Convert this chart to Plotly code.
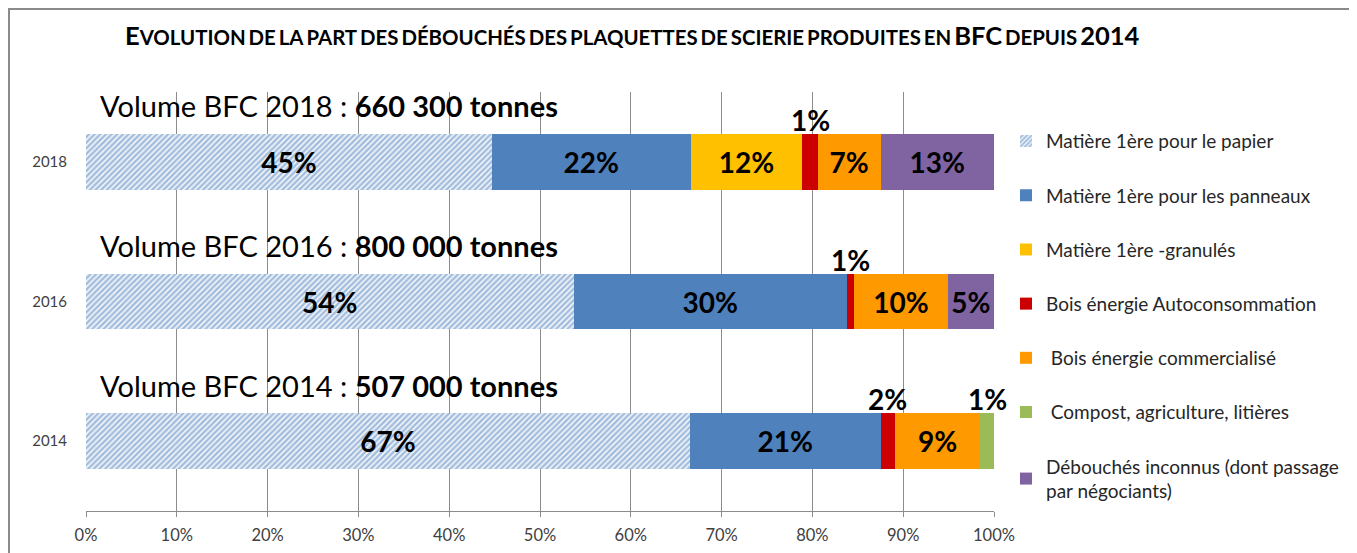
import plotly.graph_objects as go

# Data (shares in %)
years = ["2014", "2016", "2018"]
volumes = ["507 000 tonnes", "800 000 tonnes", "660 300 tonnes"]

papier = [66.5, 53.7, 44.7]
panneaux = [21.0, 30.1, 21.9]
granules = [0.0, 0.0, 12.3]
autoconso = [1.6, 0.8, 1.7]
commercialise = [9.4, 10.3, 6.9]
compost = [1.5, 0.0, 0.0]
inconnus = [0.0, 5.1, 12.5]

papier_lbl = ["67%", "54%", "45%"]
panneaux_lbl = ["21%", "30%", "22%"]
granules_lbl = ["", "", "12%"]
autoconso_lbl = ["2%", "1%", "1%"]      # shown above the bar
commercialise_lbl = ["9%", "10%", "7%"]
compost_lbl = ["1%", "", ""]            # shown above the bar
inconnus_lbl = ["", "5%", "13%"]

FONT = "Lato, Open Sans, sans-serif"
GRID = "#8c8c8c"

series = [
    ("Matière 1ère pour le papier", papier, papier_lbl, None),
    ("Matière 1ère pour les panneaux", panneaux, panneaux_lbl, "#4F81BD"),
    ("Matière 1ère -granulés", granules, granules_lbl, "#FFC000"),
    ("Bois énergie Autoconsommation", autoconso, None, "#CC0000"),
    (" Bois énergie commercialisé", commercialise, commercialise_lbl, "#FF9900"),
    (" Compost, agriculture, litières", compost, None, "#9BBB59"),
    ("Débouchés inconnus (dont passage<br>par négociants)", inconnus, inconnus_lbl, "#8064A2"),
]


def small_caps(text, big=21, small=16, keep=("BFC", "2014")):
    # fake small caps: first letter / kept words bigger
    out = []
    for word in text.split(" "):
        if word in keep:
            out.append(f"<span style='font-size:{big}px'>{word}</span>")
        elif len(out) == 0:
            out.append(f"<span style='font-size:{big}px'>{word[0]}</span>"
                       f"<span style='font-size:{small}px'>{word[1:]}</span>")
        else:
            out.append(f"<span style='font-size:{small}px'>{word}</span>")
    return "<b>" + " ".join(out) + "</b>"


fig = go.Figure()
for i, (name, vals, lbls, color) in enumerate(series):
    if color is None:
        marker = dict(color="white", line=dict(width=0),
                      pattern=dict(shape="/", fgcolor="#4F81BD", bgcolor="#f4f7fb",
                                   size=4, solidity=0.6))
    else:
        marker = dict(color=color, line=dict(width=0))
    fig.add_trace(go.Bar(
        y=years, x=vals, orientation="h", name=name,
        marker=marker,
        text=lbls if lbls else None,
        textposition="inside", insidetextanchor="middle",
        constraintext="none",
        textfont=dict(family=FONT, size=28, color="black", weight="bold"),
        legendgroup=str(i),
        hoverinfo="x+name",
    ))

# labels of the thin segments, placed above the bar (y given as category index)
cum_before_auto = [p + q + g for p, q, g in zip(papier, panneaux, granules)]
cum_before_compost = [c + a + b for c, a, b in zip(cum_before_auto, autoconso, commercialise)]
annotations = []
for k, (start, w, lbl) in enumerate(zip(cum_before_auto, autoconso, autoconso_lbl)):
    annotations.append(dict(x=start + w / 2, y=k, text=f"<b>{lbl}</b>", showarrow=False,
                            yshift=42, font=dict(family=FONT, size=28, color="black")))
for k, (start, w, lbl) in enumerate(zip(cum_before_compost, compost, compost_lbl)):
    if lbl:
        annotations.append(dict(x=start + w / 2, y=k, text=f"<b>{lbl}</b>", showarrow=False,
                                yshift=42, font=dict(family=FONT, size=28, color="black")))

for k, (yr, vol) in enumerate(zip(years, volumes)):
    annotations.append(dict(x=1.3, y=k, xanchor="left", text=f"Volume BFC {yr} : <b>{vol}</b>",
                            showarrow=False, yshift=56,
                            font=dict(family=FONT, size=29, color="black")))

title_txt = "EVOLUTION DE LA PART DES DÉBOUCHÉS DES PLAQUETTES DE SCIERIE PRODUITES EN BFC DEPUIS 2014"
annotations.append(dict(xref="paper", yref="paper", x=0.602, y=1.137, yanchor="middle",
                        text=small_caps(title_txt, big=25.5, small=20.4),
                        showarrow=False, font=dict(family=FONT, color="black")))

fig.update_layout(
    barmode="stack",
    bargap=0.6,
    width=1357, height=553,
    margin=dict(l=78, r=371, t=84, b=50, autoexpand=False),
    paper_bgcolor="white", plot_bgcolor="white",
    font=dict(family=FONT, color="#404040"),
    showlegend=True,
    legend=dict(
        x=1.0132, xanchor="left", y=0.928, yanchor="top",
        traceorder="grouped", tracegroupgap=26.5,
        font=dict(family=FONT, size=19, color="#262626"),
        bgcolor="rgba(0,0,0,0)",
    ),
    annotations=annotations,
    shapes=[dict(type="rect", xref="paper", yref="paper",
                 x0=(1 - 78) / 908, x1=(1345 - 78) / 908,
                 y0=-0.3, y1=(503 - 1) / 419,
                 line=dict(color="#8a8a8a", width=2), layer="below")],
)
fig.update_xaxes(range=[0, 100], dtick=10, ticksuffix="%", showgrid=True, gridcolor=GRID,
                 gridwidth=1, zeroline=False, showline=True, linecolor=GRID,
                 ticks="outside", ticklen=5, tickcolor=GRID, automargin=False,
                 ticklabelstandoff=4,
                 tickfont=dict(size=16.5, color="#404040"))
fig.update_yaxes(type="category", categoryorder="array", categoryarray=years,
                 range=[-0.5, 2.5], showgrid=False,
                 showline=False, ticks="", ticklabelstandoff=18, automargin=False,
                 tickfont=dict(size=15, color="#404040"))

fig.write_html("out.html")
